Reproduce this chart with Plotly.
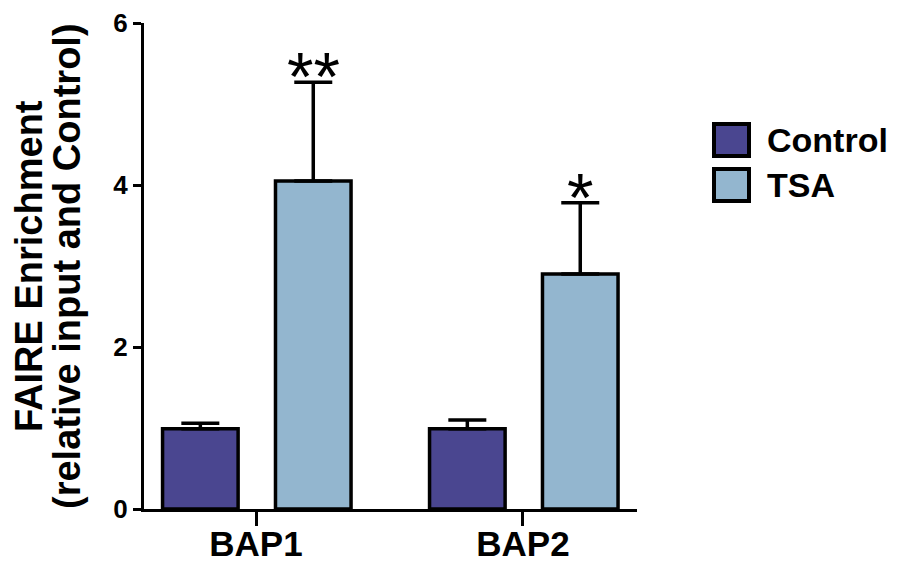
import plotly.graph_objects as go

categories = ["BAP1", "BAP2"]
series_names = ["Control", "TSA"]
control_values = [0.99, 0.99]
control_errors = [0.07, 0.11]
tsa_values = [4.05, 2.90]
tsa_errors = [1.22, 0.88]
significance = ["**", "*"]
y_ticks = [0, 2, 4, 6]
y_title_lines = ["FAIRE Enrichment", "(relative input and Control)"]

colors = {"Control": "#4a4690", "TSA": "#93b6cf"}
FONT = "Liberation Sans, Arial, sans-serif"

x_pos = list(range(len(categories)))
bar_w = 0.283
offsets = {"Control": -0.35, "TSA": 0.073}

fig = go.Figure()
for name, vals, errs in [("Control", control_values, control_errors),
                         ("TSA", tsa_values, tsa_errors)]:
    fig.add_trace(go.Bar(
        x=x_pos, y=vals, name=name, width=bar_w, offset=offsets[name],
        marker=dict(color=colors[name], line=dict(color="black", width=3.5)),
        error_y=dict(type="data", array=errs, arrayminus=[0] * len(errs),
                     symmetric=False, thickness=3.5, width=19, color="black"),
        showlegend=False,
    ))

# significance marks above TSA error bars
for i, s in enumerate(significance):
    fig.add_annotation(
        x=x_pos[i] + offsets["TSA"] + bar_w / 2, y=tsa_values[i] + tsa_errors[i],
        xref="x", yref="y", text=s, showarrow=False,
        yanchor="middle", yshift=6,
        font=dict(family=FONT, size=68, color="black"),
    )

# page body adds an 8px offset; plot area in screen pixels:
OFF = 8
L, T = 144, 23
PW, PH = 493, 486
W, H = 906 - OFF, 568 - OFF

def px(x):
    return (x - L) / PW

def py(y):
    return (T + PH - y) / PH

for line, cx in zip(y_title_lines, [29, 67]):
    fig.add_annotation(
        x=px(cx), y=py(266), xref="paper", yref="paper", text=line,
        textangle=-90, showarrow=False, xanchor="center", yanchor="middle",
        font=dict(family=FONT, size=38, color="black", weight="bold"),
    )

# legend drawn manually (large swatches)
for name, cy in zip(series_names, [140, 185]):
    fig.add_shape(type="rect", xref="paper", yref="paper",
                  x0=px(714), x1=px(749), y0=py(cy - 16), y1=py(cy + 16),
                  fillcolor=colors[name], line=dict(color="black", width=4))
    fig.add_annotation(x=px(765), y=py(cy), xref="paper", yref="paper",
                       text=name, showarrow=False, xanchor="left", yanchor="middle",
                       font=dict(family=FONT, size=34, color="black", weight="bold"))

fig.update_layout(
    width=W, height=H,
    margin=dict(l=L - OFF, r=W - (L - OFF) - PW, t=T - OFF, b=H - (T - OFF) - PH,
                pad=0, autoexpand=False),
    plot_bgcolor="white", paper_bgcolor="white",
    barmode="overlay",
    font=dict(family=FONT, color="black"),
)
fig.update_xaxes(
    range=[-0.4195, 1.427], tickvals=x_pos, ticktext=categories, automargin=False,
    showline=True, linewidth=3, linecolor="black", ticks="outside",
    ticklen=14, tickwidth=3, tickcolor="black", showgrid=False, zeroline=False,
    ticklabelstandoff=-12,
    tickfont=dict(family=FONT, size=35, color="black", weight="bold"),
)
fig.update_yaxes(
    range=[0, 6], tickvals=y_ticks, ticktext=[str(t) for t in y_ticks], automargin=False,
    showline=True, linewidth=3, linecolor="black", ticks="outside",
    ticklen=8, tickwidth=3, tickcolor="black", showgrid=False, zeroline=False,
    tickfont=dict(family=FONT, size=26, color="black", weight="bold"),
)

fig.write_html("out.html")
